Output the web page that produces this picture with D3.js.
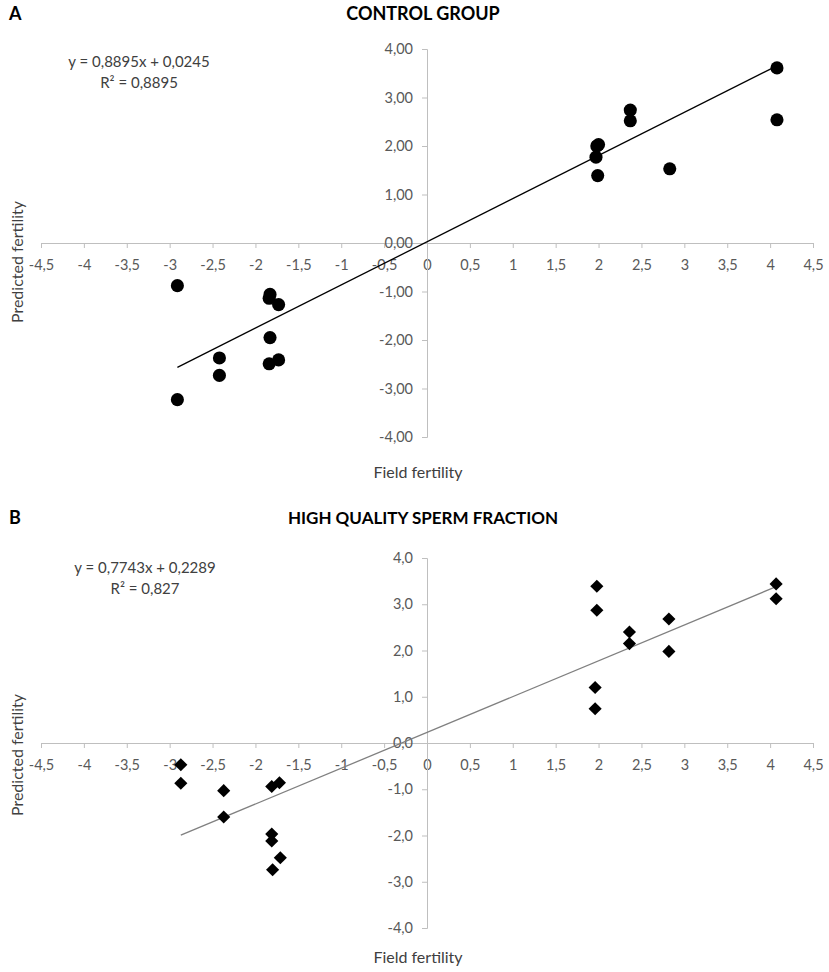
<!DOCTYPE html>
<html>
<head>
<meta charset="utf-8">
<script src="https://cdn.jsdelivr.net/npm/d3@7"></script>
<style>
  body { margin: 0; background: #fff; }
  svg { font-family: Lato, "Noto Sans", sans-serif; }
</style>
</head>
<body>
<div id="chart"></div>
<script>
// panel A - control group
var fieldA = [4.08, 4.08, 2.37, 2.37, 1.98, 2.00, 1.97, 1.99, 2.83,
              -2.91, -1.83, -1.84, -1.73, -1.83, -2.42, -1.73, -1.84, -2.42, -2.91];
var predA  = [3.61, 2.54, 2.74, 2.52, 2.00, 2.03, 1.77, 1.39, 1.53,
              -0.88, -1.06, -1.14, -1.27, -1.95, -2.37, -2.41, -2.49, -2.73, -3.23];
// panel B - high quality sperm fraction
var fieldB = [4.07, 4.07, 1.98, 1.98, 2.36, 2.36, 2.82, 2.82, 1.96, 1.96,
              -2.87, -2.87, -2.37, -2.37, -1.81, -1.72, -1.81, -1.81, -1.71, -1.80];
var predB  = [3.44, 3.12, 3.39, 2.87, 2.40, 2.15, 2.68, 1.98, 1.20, 0.74,
              -0.47, -0.87, -1.03, -1.60, -0.94, -0.86, -1.97, -2.12, -2.48, -2.74];

var trendA = { slope: 0.8895, intercept: 0.0245 };
var trendB = { slope: 0.7743, intercept: 0.2289 };

var xTicks = [-4.5, -4, -3.5, -3, -2.5, -2, -1.5, -1, -0.5, 0, 0.5, 1, 1.5, 2, 2.5, 3, 3.5, 4, 4.5];
var yTicks = [-4, -3, -2, -1, 0, 1, 2, 3, 4];

var width = 829, height = 972;

var svg = d3.select('#chart')
  .append('svg')
  .attr('width', width)
  .attr('height', height);

var comma = function(n, dec) {
  return n.toFixed(dec).replace('.', ',');
};

function drawPanel(cfg) {
  var g = svg.append('g');

  var x = d3.scaleLinear().domain([-4.5, 4.5]).range([41, 813]);
  var y = d3.scaleLinear().domain([-4, 4]).range([cfg.bottom, cfg.top]);

  // letter + title
  g.append('text')
    .attr('x', 9).attr('y', cfg.titleY)
    .attr('font-weight', 'bold').attr('font-size', 18)
    .text(cfg.letter);
  g.append('text')
    .attr('x', 423).attr('y', cfg.titleY)
    .attr('text-anchor', 'middle')
    .attr('font-weight', 'bold').attr('font-size', cfg.titleSize)
    .text(cfg.title);

  // x axis through y = 0
  var xAxis = g.append('g')
    .attr('transform', 'translate(0,' + y(0) + ')')
    .call(d3.axisBottom(x)
      .tickValues(xTicks)
      .tickSize(5)
      .tickPadding(12)
      .tickFormat(function(d) { return comma(d, d % 1 === 0 ? 0 : 1); }));

  // y axis through x = 0
  var yAxis = g.append('g')
    .attr('transform', 'translate(' + x(0) + ',0)')
    .call(d3.axisLeft(y)
      .tickValues(yTicks)
      .tickSize(5)
      .tickPadding(9)
      .tickFormat(function(d) { return comma(d, cfg.decimals); }));

  [xAxis, yAxis].forEach(function(ax) {
    ax.selectAll('path, line').attr('stroke', '#bfbfbf');
    ax.selectAll('text')
      .attr('fill', '#595959')
      .attr('font-size', 14.5)
      .attr('font-family', 'Lato, "Noto Sans", sans-serif');
  });

  // axis titles
  g.append('text')
    .attr('x', 418).attr('y', cfg.xTitleY)
    .attr('text-anchor', 'middle')
    .attr('font-size', 16).attr('fill', '#404040')
    .text('Field fertility');
  g.append('text')
    .attr('transform', 'translate(23,' + cfg.yTitleY + ') rotate(-90)')
    .attr('text-anchor', 'middle')
    .attr('font-size', 16).attr('fill', '#404040')
    .text('Predicted fertility');

  // trendline over the x range of the data
  var ext = d3.extent(cfg.xs);
  var t = cfg.trend;
  g.append('line')
    .attr('x1', x(ext[0])).attr('y1', y(t.slope * ext[0] + t.intercept))
    .attr('x2', x(ext[1])).attr('y2', y(t.slope * ext[1] + t.intercept))
    .attr('stroke', cfg.lineColor)
    .attr('stroke-width', 1.3);

  // equation
  g.append('text')
    .attr('x', cfg.eqX).attr('y', cfg.eqY)
    .attr('text-anchor', 'middle')
    .attr('font-size', 15).attr('fill', '#404040')
    .text('y = ' + comma(t.slope, 4) + 'x + ' + comma(t.intercept, 4));
  g.append('text')
    .attr('x', cfg.eqX).attr('y', cfg.eqY + 21)
    .attr('text-anchor', 'middle')
    .attr('font-size', 15).attr('fill', '#404040')
    .text('R² = ' + cfg.r2);

  // points
  var pts = cfg.xs.map(function(d, i) { return [d, cfg.ys[i]]; });
  g.selectAll('path.pt')
    .data(pts)
    .enter()
    .append('path')
    .attr('class', 'pt')
    .attr('transform', function(d) {
      return 'translate(' + x(d[0]) + ',' + y(d[1]) + ')';
    })
    .attr('d', d3.symbol().type(cfg.symbol).size(cfg.symbolSize))
    .attr('fill', '#000');
}

drawPanel({
  letter: 'A', title: 'CONTROL GROUP', titleY: 20, titleSize: 18,
  top: 49, bottom: 437, decimals: 2,
  xTitleY: 478, yTitleY: 262,
  xs: fieldA, ys: predA, trend: trendA, r2: '0,8895',
  eqX: 139, eqY: 67, lineColor: '#000',
  symbol: d3.symbolCircle, symbolSize: 135
});

drawPanel({
  letter: 'B', title: 'HIGH QUALITY SPERM FRACTION', titleY: 524, titleSize: 17,
  top: 558, bottom: 928, decimals: 1,
  xTitleY: 963, yTitleY: 755,
  xs: fieldB, ys: predB, trend: trendB, r2: '0,827',
  eqX: 145, eqY: 573, lineColor: '#808080',
  symbol: d3.symbolDiamond2, symbolSize: 110
});
</script>
</body>
</html>
